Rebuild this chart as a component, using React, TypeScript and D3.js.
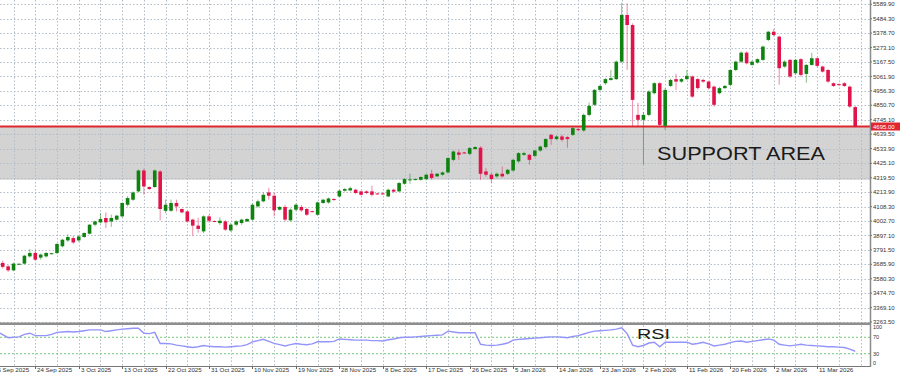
import React, { useEffect, useRef } from 'react';
import * as d3 from 'd3';

// daily candles, [open, high, low, close]
const candles: [number, number, number, number][] = [
  [3696, 3712, 3655, 3667], [3671, 3680, 3630, 3642], [3642, 3698, 3635, 3691], [3688, 3694, 3684, 3690],
  [3691, 3755, 3685, 3749], [3744, 3798, 3735, 3769], [3769, 3790, 3712, 3720], [3735, 3765, 3720, 3757],
  [3744, 3775, 3735, 3769], [3764, 3770, 3760, 3767], [3769, 3840, 3760, 3835], [3818, 3872, 3810, 3866],
  [3861, 3905, 3850, 3886], [3878, 3895, 3835, 3846], [3861, 3897, 3850, 3890], [3886, 3920, 3880, 3915],
  [3910, 3980, 3905, 3976], [3976, 4005, 3965, 4000], [3993, 4060, 3985, 4018], [4025, 4066, 3952, 3993],
  [4000, 4050, 3960, 4025], [4013, 4048, 4008, 4042], [4037, 4140, 4030, 4135], [4122, 4185, 4110, 4171],
  [4159, 4220, 4150, 4212], [4220, 4380, 4212, 4373], [4373, 4385, 4195, 4256], [4252, 4258, 4230, 4237],
  [4252, 4381, 4245, 4373], [4366, 4375, 4008, 4091], [4078, 4160, 4060, 4122], [4078, 4160, 4070, 4135],
  [4135, 4159, 4073, 4110], [4091, 4095, 4060, 4066], [4073, 4080, 3990, 4000], [4013, 4020, 3895, 3969],
  [3969, 4027, 3918, 3945], [3927, 4045, 3915, 4037], [4037, 4050, 3990, 4005], [4003, 4008, 3995, 4000],
  [3988, 4030, 3975, 4005], [4000, 4010, 3930, 3940], [3934, 3990, 3925, 3976], [3976, 4010, 3965, 4000],
  [3988, 4020, 3975, 4013], [4000, 4022, 3995, 4018], [4013, 4130, 4005, 4122], [4110, 4160, 4100, 4147],
  [4147, 4212, 4140, 4195], [4212, 4245, 4160, 4188], [4188, 4210, 4037, 4081], [4086, 4112, 4080, 4106],
  [4106, 4120, 4000, 4013], [4008, 4095, 4000, 4086], [4086, 4130, 4075, 4122], [4106, 4120, 4070, 4081],
  [4091, 4100, 4040, 4049], [4075, 4080, 4068, 4073], [4049, 4145, 4040, 4139], [4135, 4165, 4130, 4159],
  [4139, 4175, 4130, 4168], [4164, 4170, 4150, 4159], [4183, 4232, 4175, 4225], [4225, 4245, 4218, 4237],
  [4227, 4255, 4220, 4243], [4232, 4240, 4200, 4208], [4220, 4225, 4188, 4195], [4220, 4228, 4200, 4208],
  [4220, 4262, 4183, 4195], [4205, 4210, 4198, 4202], [4205, 4212, 4195, 4200], [4183, 4240, 4178, 4232],
  [4232, 4240, 4210, 4218], [4220, 4290, 4215, 4281], [4276, 4318, 4268, 4310], [4303, 4350, 4275, 4308],
  [4305, 4315, 4300, 4310], [4305, 4330, 4298, 4325], [4310, 4350, 4300, 4342], [4349, 4378, 4305, 4318],
  [4330, 4355, 4325, 4349], [4342, 4365, 4335, 4359], [4359, 4470, 4350, 4464], [4451, 4520, 4440, 4512],
  [4505, 4525, 4451, 4488], [4505, 4510, 4495, 4502], [4495, 4545, 4485, 4537], [4530, 4550, 4525, 4545],
  [4540, 4550, 4305, 4349], [4366, 4390, 4327, 4342], [4342, 4355, 4283, 4310], [4330, 4358, 4320, 4349],
  [4349, 4402, 4320, 4330], [4349, 4385, 4340, 4378], [4373, 4458, 4365, 4451], [4440, 4508, 4430, 4500],
  [4488, 4510, 4480, 4500], [4488, 4495, 4415, 4451], [4480, 4525, 4470, 4519], [4519, 4555, 4510, 4548],
  [4544, 4610, 4535, 4603], [4634, 4642, 4561, 4603], [4603, 4630, 4595, 4622], [4622, 4634, 4585, 4598],
  [4617, 4625, 4540, 4603], [4634, 4690, 4625, 4683], [4676, 4685, 4660, 4671], [4666, 4790, 4655, 4780],
  [4780, 4870, 4770, 4846], [4854, 4970, 4845, 4963], [4963, 5000, 4955, 4992], [5012, 5050, 5000, 5042],
  [5036, 5109, 5030, 5049], [5042, 5178, 5035, 5170], [5170, 5601, 5160, 5512], [5512, 5597, 5109, 5438],
  [5438, 5450, 4695, 4890], [4780, 4868, 4693, 4744], [4744, 4800, 4415, 4780], [4780, 4960, 4770, 4951],
  [4939, 5020, 4930, 5012], [5012, 5020, 4700, 4707], [4700, 4975, 4670, 4963], [4992, 5045, 4985, 5036],
  [5042, 5080, 4963, 5024], [5024, 5050, 5015, 5042], [5042, 5109, 5035, 5066], [5061, 5070, 4905, 4914],
  [5042, 5050, 4965, 4976], [5036, 5045, 5015, 5024], [5024, 5030, 4965, 4976], [4987, 4995, 4840, 4854],
  [4939, 4985, 4930, 4976], [4976, 5000, 4970, 4992], [5000, 5115, 4990, 5109], [5109, 5178, 5100, 5170],
  [5170, 5245, 5160, 5236], [5236, 5245, 5150, 5158], [5146, 5178, 5140, 5170], [5163, 5195, 5155, 5188],
  [5183, 5288, 5175, 5280], [5329, 5395, 5320, 5389], [5389, 5409, 5355, 5365], [5353, 5360, 5000, 5122],
  [5134, 5180, 5125, 5170], [5183, 5190, 5050, 5061], [5085, 5190, 5075, 5183], [5188, 5195, 5060, 5073],
  [5080, 5152, 5015, 5146], [5146, 5236, 5140, 5195], [5195, 5200, 5130, 5139], [5134, 5140, 5090, 5097],
  [5109, 5115, 5015, 5024], [5012, 5018, 4985, 4992], [5005, 5012, 4995, 5000], [5012, 5020, 4985, 4992],
  [4987, 4995, 4830, 4841], [4837, 4845, 4690, 4695],
];

const rsi = [
  80, 69, 70, 71, 77, 80, 74, 74, 74, 77, 82, 83, 84, 83, 84, 86, 88, 88, 88, 84,
  86, 88, 90, 91, 92, 92, 80, 79, 82, 55, 55, 54, 51, 49, 47, 45, 47, 50, 48, 47,
  47, 46, 47, 48, 49, 52, 59, 62, 65, 60, 55, 52, 49, 52, 55, 53, 52, 54, 59, 59,
  59, 60, 66, 65, 64, 63, 63, 63, 62, 62, 61, 64, 66, 69, 70, 70, 71, 72, 73, 74,
  75, 76, 85, 83, 81, 81, 81, 81, 53, 51, 50, 51, 53, 56, 63, 65, 66, 67, 68, 69,
  70, 71, 71, 70, 69, 72, 74, 78, 82, 85, 86, 87, 88, 90, 93, 79, 51, 47, 50, 56,
  58, 47, 58, 58, 58, 58, 58, 53, 55, 58, 54, 49, 51, 53, 57, 60, 61, 58, 60, 62,
  64, 66, 63, 53, 51, 49, 51, 53, 51, 50, 49, 48, 47, 47, 46, 45, 41, 36,
];

const priceTicks = [
  '5589.90', '5484.30', '5378.70', '5273.10', '5167.50', '5061.90', '4956.30', '4850.70',
  '4745.10', '4639.50', '4533.90', '4425.10', '4319.50', '4213.90', '4108.30', '4002.70',
  '3897.10', '3791.50', '3685.90', '3580.30', '3474.70', '3369.10', '3263.50',
];

const dateLabels = [
  '15 Sep 2025', '24 Sep 2025', '3 Oct 2025', '13 Oct 2025', '22 Oct 2025', '31 Oct 2025',
  '10 Nov 2025', '19 Nov 2025', '28 Nov 2025', '8 Dec 2025', '17 Dec 2025', '26 Dec 2025',
  '5 Jan 2026', '14 Jan 2026', '23 Jan 2026', '2 Feb 2026', '11 Feb 2026', '20 Feb 2026',
  '2 Mar 2026', '11 Mar 2026',
];

const rsiLevels = [100, 70, 30, 0];
const supportTop = 4695;
const supportBottom = 4305;

const W = 900;
const H = 373;
const plotRight = 870;
const font = '"Liberation Sans", Arial, sans-serif';

export default function App() {
  const ref = useRef<SVGSVGElement>(null);

  useEffect(() => {
    document.body.style.margin = '0';
    const svg = d3.select(ref.current);
    svg.selectAll('*').remove();

    const x = d3.scaleLinear().domain([0, candles.length - 1]).range([2.7, 2.7 + 5.43 * (candles.length - 1)]);
    const y = d3.scaleLinear().domain([3263.5, 5589.9]).range([322, 4.3]);
    const yr = d3.scaleLinear().domain([0, 100]).range([366, 325]);

    svg.append('rect').attr('width', W).attr('height', H).attr('fill', '#fff');

    // support band
    svg.append('rect')
      .attr('x', 0).attr('width', plotRight)
      .attr('y', y(supportTop)).attr('height', y(supportBottom) - y(supportTop))
      .attr('fill', '#d3d3d3');

    // grid
    const grid = svg.append('g').attr('stroke', '#b3bdc7').attr('stroke-dasharray', '1.5,2');
    priceTicks.forEach(t => {
      grid.append('line').attr('x1', 0).attr('x2', plotRight)
        .attr('y1', Math.round(y(+t)) + 0.5).attr('y2', Math.round(y(+t)) + 0.5);
    });
    for (let b = -2; b < candles.length + 4; b += 4) {
      const xx = Math.round(x(b)) + 0.5;
      if (xx < 0 || xx > plotRight) continue;
      grid.append('line').attr('x1', xx).attr('x2', xx).attr('y1', 0).attr('y2', 366);
    }

    // price line
    svg.append('line').attr('x1', 0).attr('x2', plotRight)
      .attr('y1', y(supportTop)).attr('y2', y(supportTop))
      .attr('stroke', '#e0262e').attr('stroke-width', 2);

    // candles
    const cg = svg.append('g');
    candles.forEach(([o, h, l, c], i) => {
      const up = c >= o;
      const col = up ? '#0f820f' : '#e0144b';
      const cx = x(i);
      cg.append('line').attr('x1', cx).attr('x2', cx).attr('y1', y(h)).attr('y2', y(l))
        .attr('stroke', col).attr('stroke-opacity', 0.5).attr('stroke-width', 1);
      const top = y(Math.max(o, c));
      cg.append('rect').attr('x', cx - 1.8).attr('width', 3.6)
        .attr('y', top).attr('height', Math.max(1, Math.abs(y(o) - y(c))))
        .attr('fill', col);
    });

    svg.append('text').attr('x', 657).attr('y', 160)
      .attr('font-family', font).attr('font-size', 19).attr('fill', '#1a1a1a')
      .attr('textLength', 168).attr('lengthAdjust', 'spacingAndGlyphs')
      .text('SUPPORT AREA');

    // separator between panels
    svg.append('rect').attr('x', 0).attr('width', plotRight).attr('y', 322.5).attr('height', 2.5).attr('fill', '#8e8e8e');

    // RSI panel
    [70, 30].forEach(v => {
      svg.append('line').attr('x1', 0).attr('x2', plotRight)
        .attr('y1', yr(v)).attr('y2', yr(v))
        .attr('stroke', '#76c876').attr('stroke-dasharray', '2,2');
    });
    const line = d3.line<number>().x((_, i) => (i === 0 ? 0 : x(i))).y(d => yr(d));
    svg.append('path').datum(rsi).attr('d', line)
      .attr('fill', 'none').attr('stroke', '#9494fb').attr('stroke-width', 1.4);

    svg.append('text').attr('x', 637).attr('y', 339)
      .attr('font-family', font).attr('font-size', 15).attr('fill', '#1a1a1a')
      .attr('textLength', 33).attr('lengthAdjust', 'spacingAndGlyphs')
      .text('RSI');

    // frame
    svg.append('line').attr('x1', plotRight + 0.5).attr('x2', plotRight + 0.5).attr('y1', 0).attr('y2', 367)
      .attr('stroke', '#8a8a8a').attr('stroke-width', 1.5);
    svg.append('line').attr('x1', 0).attr('x2', plotRight).attr('y1', 366.5).attr('y2', 366.5)
      .attr('stroke', '#777');

    // right axis labels
    const ax = svg.append('g').attr('font-family', font).attr('font-size', 6).attr('fill', '#333');
    priceTicks.forEach(t => {
      const yy = y(+t);
      ax.append('line').attr('x1', plotRight).attr('x2', plotRight + 2).attr('y1', yy).attr('y2', yy).attr('stroke', '#777');
      ax.append('text').attr('x', 873).attr('y', yy).attr('dy', '0.35em').text(t);
    });
    rsiLevels.forEach(v => {
      const yy = Math.min(Math.max(yr(v), 327), 363);
      ax.append('text').attr('x', 873).attr('y', yy).attr('dy', '0.35em').attr('font-size', 5.5).text(String(v));
    });

    // current price tag
    const last = candles[candles.length - 1][3];
    svg.append('rect').attr('x', 871).attr('y', y(last) - 4).attr('width', 29).attr('height', 8).attr('fill', '#e0262e');
    svg.append('text').attr('x', 873).attr('y', y(last)).attr('dy', '0.35em')
      .attr('font-family', font).attr('font-size', 6).attr('fill', '#fff').text(last.toFixed(2));

    // date labels
    dateLabels.forEach((d, k) => {
      const xx = Math.round(x(-2 + 8 * k)) + 0.5;
      ax.append('line').attr('x1', xx).attr('x2', xx).attr('y1', 366).attr('y2', 369).attr('stroke', '#666');
      ax.append('text').attr('x', xx + 1.5).attr('y', 371.5).attr('font-size', 6.2).text(d);
    });
  }, []);

  return (
    <svg ref={ref} width={W} height={H} style={{ display: 'block', position: 'absolute', left: 0, top: 0 }} />
  );
}
